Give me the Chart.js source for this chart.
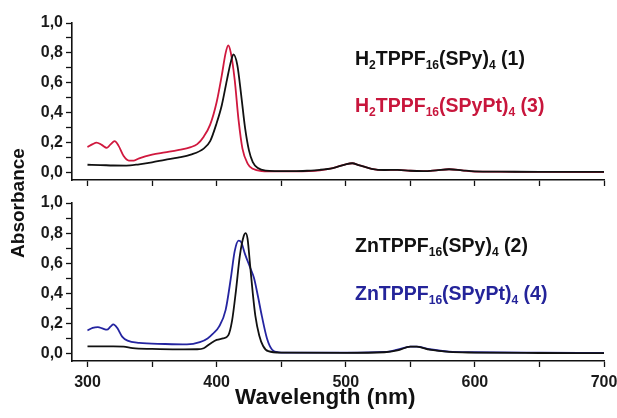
<!DOCTYPE html>
<html>
<head>
<meta charset="utf-8">
<script src="https://cdn.jsdelivr.net/npm/chart.js@4.4.1/dist/chart.umd.min.js"></script>
<style>
  html, body { margin: 0; padding: 0; background: #fff; }
  #wrap { position: relative; width: 617px; height: 418px; overflow: hidden; font-family: "Liberation Sans", Arial, sans-serif; }
  canvas { position: absolute; left: 0; }
  .lbl { position: absolute; left: 355px; font-weight: bold; font-size: 19.5px; line-height: 19.5px; white-space: nowrap; }
  .lbl sub { font-size: 0.62em; vertical-align: baseline; position: relative; top: 0.32em; }
  #ytitle { position: absolute; left: 6px; top: 191px; width: 140px; height: 24px; margin-left: -58px;
            font-weight: bold; font-size: 19px; line-height: 24px; text-align: center; transform: rotate(-90deg); color: #111; }
  #xtitle { position: absolute; left: 235px; top: 386px; font-weight: bold; font-size: 22.5px; line-height: 22.5px; color: #111; white-space: nowrap; }
</style>
</head>
<body>
<div id="wrap">
  <canvas id="top" width="617" height="196" style="top:0"></canvas>
  <canvas id="bot" width="617" height="228" style="top:190px"></canvas>
  <div class="lbl" style="top:49px;color:#111">H<sub>2</sub>TPPF<sub>16</sub>(SPy)<sub>4</sub> (1)</div>
  <div class="lbl" style="top:96px;color:#c8163c">H<sub>2</sub>TPPF<sub>16</sub>(SPyPt)<sub>4</sub> (3)</div>
  <div class="lbl" style="top:236px;color:#111">ZnTPPF<sub>16</sub>(SPy)<sub>4</sub> (2)</div>
  <div class="lbl" style="top:284px;color:#24249a">ZnTPPF<sub>16</sub>(SPyPt)<sub>4</sub> (4)</div>
  <div id="ytitle">Absorbance</div>
  <div id="xtitle">Wavelength (nm)</div>
</div>
<script>
// wavelength ticks and absorbance ticks
const xTicks = [300, 350, 400, 450, 500, 550, 600, 650, 700];
const yTicks = [0, 0.1, 0.2, 0.3, 0.4, 0.5, 0.6, 0.7, 0.8, 0.9, 1.0];

// H2TPPF16(SPy)4 (1)
const wl1 = [300,310,320,330,340,350,360,370,380,390,395,400,404,408,411,413,416,419,422,425,428,432,438,445,460,470,480,490,500,505,510,520,530,540,550,560,570,580,590,600,620,650,700];
const abs1 = [0.052,0.050,0.047,0.046,0.055,0.068,0.085,0.10,0.12,0.16,0.21,0.33,0.45,0.62,0.74,0.79,0.72,0.52,0.30,0.15,0.07,0.03,0.012,0.009,0.009,0.012,0.018,0.03,0.055,0.062,0.05,0.025,0.017,0.018,0.012,0.01,0.015,0.022,0.015,0.008,0.006,0.004,0.004];

// H2TPPF16(SPyPt)4 (3)
const wl3 = [300,304,307,311,315,318,321,324,328,332,336,340,350,360,370,380,385,390,395,400,404,407,409,411,414,417,420,424,428,435,445,460,480,490,500,505,510,520,530,540,550,560,570,580,590,600,650,700];
const abs3 = [0.17,0.19,0.20,0.185,0.165,0.19,0.21,0.18,0.11,0.08,0.08,0.095,0.12,0.135,0.15,0.17,0.19,0.24,0.32,0.47,0.65,0.80,0.85,0.80,0.62,0.35,0.16,0.06,0.025,0.01,0.008,0.008,0.015,0.03,0.055,0.062,0.05,0.025,0.017,0.018,0.012,0.01,0.015,0.022,0.015,0.006,0.004,0.003];

// ZnTPPF16(SPy)4 (2)
const wl2 = [300,320,328,335,350,370,385,390,395,400,405,409,412,415,418,421,422.5,424,426,428,430,433,436,440,450,500,530,540,550,555,565,580,600,650,700];
const abs2 = [0.047,0.047,0.045,0.035,0.03,0.027,0.028,0.035,0.065,0.09,0.10,0.12,0.22,0.42,0.65,0.78,0.80,0.76,0.58,0.40,0.25,0.12,0.05,0.015,0.005,0.004,0.008,0.02,0.045,0.045,0.025,0.01,0.006,0.003,0.002];

// ZnTPPF16(SPyPt)4 (4)
const wl4 = [300,304,308,312,315,318,320,323,327,331,340,360,377,387,393,397,402,407,411,414,417,419,422,426,429,432,435,439,443,448,460,500,530,540,550,555,565,580,600,650,700];
const abs4 = [0.153,0.17,0.175,0.165,0.158,0.18,0.193,0.17,0.11,0.085,0.07,0.063,0.06,0.075,0.10,0.13,0.18,0.29,0.50,0.68,0.75,0.74,0.66,0.57,0.50,0.38,0.25,0.10,0.025,0.008,0.005,0.005,0.01,0.025,0.045,0.045,0.028,0.012,0.008,0.005,0.004];

const pts = (xs, ys) => xs.map((x, i) => ({x, y: ys[i]}));
const FONT = '"Liberation Sans", Arial, sans-serif';

function line(data, color) {
  return { data, borderColor: color, borderWidth: 1.8, pointRadius: 0, fill: false, cubicInterpolationMode: 'monotone' };
}

function makeChart(id, datasets, bottom) {
  return new Chart(document.getElementById(id), {
    type: 'line',
    data: { datasets },
    options: {
      responsive: false,
      animation: false,
      events: [],
      layout: { padding: { top: bottom ? 13 : 23, right: 13, left: 0, bottom: 0 } },
      plugins: { legend: { display: false }, tooltip: { enabled: false } },
      scales: {
        x: {
          type: 'linear', min: 288, max: 700,
          afterBuildTicks: s => { s.ticks = xTicks.map(v => ({value: v})); },
          afterFit: s => { s.height = bottom ? 57 : 16; s.paddingLeft = 0; s.paddingRight = 0; },
          border: { color: '#111', width: 1.6 },
          grid: { drawOnChartArea: false, tickLength: 6, tickColor: '#111', tickWidth: 1.3 },
          ticks: {
            display: bottom, autoSkip: false, maxRotation: 0, padding: 6, color: '#1a1a1a',
            font: { family: FONT, size: 16, weight: 'bold' },
            callback: v => (v % 100 === 0 ? String(v) : '')
          }
        },
        y: {
          min: -0.05, max: 1.0,
          afterBuildTicks: s => { s.ticks = yTicks.map(v => ({value: v})); },
          afterFit: s => { s.width = 72; },
          border: { color: '#111', width: 1.6 },
          grid: { drawOnChartArea: false, tickLength: 6, tickColor: '#111', tickWidth: 1.3 },
          ticks: {
            autoSkip: false, padding: 3, color: '#1a1a1a',
            font: { family: FONT, size: 16, weight: 'bold' },
            callback: (v, i) => (i % 2 === 0 ? v.toFixed(1).replace('.', ',') : '')
          }
        }
      }
    }
  });
}

makeChart('top', [line(pts(wl1, abs1), '#111111'), line(pts(wl3, abs3), '#d0183e')], false);
makeChart('bot', [line(pts(wl2, abs2), '#111111'), line(pts(wl4, abs4), '#2424a0')], true);
</script>
</body>
</html>
